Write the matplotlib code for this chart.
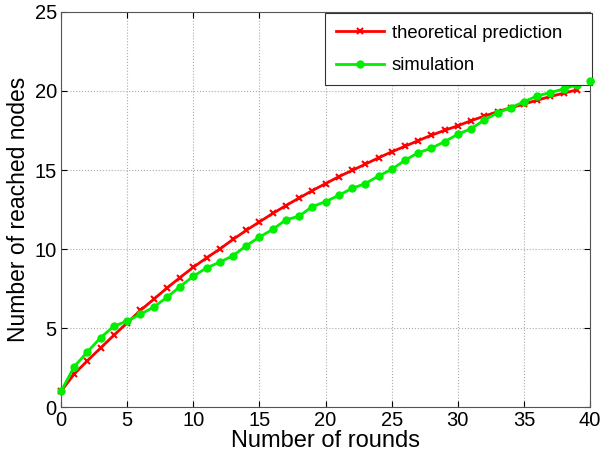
import matplotlib
matplotlib.use("Agg")
import matplotlib.pyplot as plt

plt.rcParams['font.family'] = ['Liberation Sans', 'DejaVu Sans']

rounds_theory = list(range(0, 40))
theory = [1.0, 2.1, 2.94, 3.75, 4.55, 5.33, 6.12, 6.82, 7.53, 8.2,
          8.85, 9.44, 10.0, 10.61, 11.18, 11.72, 12.25, 12.75, 13.23, 13.7,
          14.14, 14.58, 14.97, 15.37, 15.77, 16.15, 16.5, 16.86, 17.2, 17.51,
          17.8, 18.12, 18.41, 18.69, 18.94, 19.17, 19.42, 19.65, 19.86, 20.07]

rounds_sim = list(range(0, 41))
sim = [1.0, 2.56, 3.5, 4.4, 5.12, 5.45, 5.87, 6.33, 6.94, 7.63,
       8.28, 8.81, 9.17, 9.58, 10.21, 10.76, 11.24, 11.85, 12.08, 12.69,
       13.0, 13.4, 13.84, 14.14, 14.62, 15.04, 15.62, 16.09, 16.38, 16.8,
       17.26, 17.62, 18.16, 18.62, 18.94, 19.32, 19.69, 19.9, 20.13, 20.4,
       20.66]

fig = plt.figure(figsize=(6.01, 4.58), dpi=100)
ax = fig.add_axes([0.1015, 0.111, 0.8805, 0.863])

ax.plot(rounds_theory, theory, color='#ff0000', lw=2, marker='x', ms=4,
        mew=1.5, label='theoretical prediction', clip_on=False, zorder=3)
ax.plot(rounds_sim, sim, color='#00ee00', lw=2, marker='o', ms=5,
        label='simulation', clip_on=False, zorder=3)
# last green dot sticks out past the legend frame in the original
ax.plot(rounds_sim[-1:], sim[-1:], color='#00ee00', ls='none', marker='o',
        ms=5, clip_on=False, zorder=6)

ax.set_xlim(0, 40)
ax.set_ylim(0, 25)
ax.set_xticks(range(0, 41, 5))
ax.set_yticks(range(0, 26, 5))
ax.tick_params(direction='in', labelsize=14.5, length=4, top=True, right=True, pad=3)
ax.grid(True, linestyle=':', color='#aaaaaa', lw=0.8)
for s in ax.spines.values():
    s.set_color('#555555')

ax.set_xlabel('Number of rounds', fontsize=17, labelpad=0)
ax.set_ylabel('Number of reached nodes', fontsize=16.5, labelpad=3)

# matlab-style legend box: wide, with empty space on the right
leg = ax.legend(loc='upper left', bbox_to_anchor=(0.499, 0.826, 0.505, 0.17),
                mode='expand', fontsize=13.3, fancybox=False,
                edgecolor='#333333', framealpha=1, borderpad=0.6,
                labelspacing=0.85, handlelength=2.6, handletextpad=0.4,
                borderaxespad=0)
leg.get_frame().set_linewidth(0.8)
leg.set_zorder(5)

fig.savefig('out.png', dpi=100)
